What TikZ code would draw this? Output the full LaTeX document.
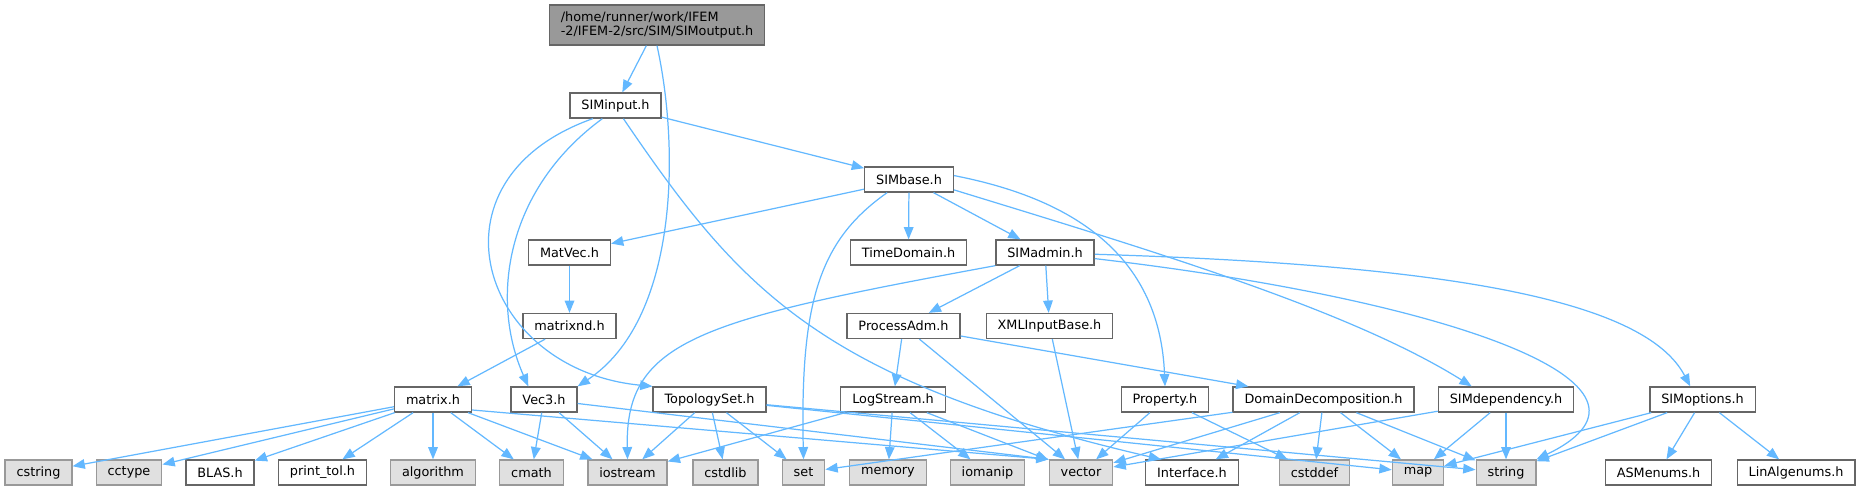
\documentclass[tikz,border=0pt]{standalone}
\usepackage{fontspec}
\setmainfont{DejaVu Sans}
\usetikzlibrary{arrows.meta}

\definecolor{edgeblue}{HTML}{63B8FF}
\definecolor{boxline}{HTML}{666666}
\definecolor{sysline}{HTML}{999999}
\definecolor{sysfill}{HTML}{E0E0E0}
\definecolor{rootfill}{HTML}{999999}

\begin{document}
\begin{tikzpicture}[x=0.02cm, y=-0.02cm,
    hdr/.style={draw=boxline, fill=white, line width=0.75pt, minimum height=0.5cm,
        inner xsep=6.5pt, inner ysep=0pt, font=\fontsize{7.3}{8}\selectfont},
    syshdr/.style={hdr, draw=sysline, fill=sysfill},
    rootfile/.style={hdr, fill=rootfill, align=left, minimum height=0.8cm},
    inc/.style={draw=edgeblue, line width=0.7pt, -{Triangle[length=7pt, width=5.5pt]}}]
                \useasboundingbox (0,0) rectangle (1861,491);

                % project headers
                \node[rootfile] (out) at (657,25) {/home/runner/work/IFEM\\-2/IFEM-2/src/SIM/SIMoutput.h};
                \node[hdr] (input) at (615.5,105.5) {SIMinput.h};
                \node[hdr] (base) at (909,179.5) {SIMbase.h};
                \node[hdr] (matvec) at (569.5,252.5) {MatVec.h};
                \node[hdr] (timedom) at (908.5,252.5) {TimeDomain.h};
                \node[hdr] (admin) at (1045,252.5) {SIMadmin.h};
                \node[hdr] (matrixnd) at (569.5,326) {matrixnd.h};
                \node[hdr] (procadm) at (903.5,326) {ProcessAdm.h};
                \node[hdr] (xmlbase) at (1049.5,326) {XMLInputBase.h};
                \node[hdr] (matrix) at (433,399.5) {matrix.h};
                \node[hdr] (vec3) at (544,399.5) {Vec3.h};
                \node[hdr] (topo) at (709.5,399.5) {TopologySet.h};
                \node[hdr] (logstr) at (893,399.5) {LogStream.h};
                \node[hdr] (prop) at (1165,399.5) {Property.h};
                \node[hdr] (domdec) at (1323.5,399.5) {DomainDecomposition.h};
                \node[hdr] (simdep) at (1506,399.5) {SIMdependency.h};
                \node[hdr] (simopt) at (1702.5,399.5) {SIMoptions.h};

                % bottom row
                \node[syshdr] (cstring) at (38.5,472.5) {cstring};
                \node[syshdr] (cctype) at (129,472.5) {cctype};
                \node[hdr] (blas) at (220,472.5) {BLAS.h};
                \node[hdr] (printtol) at (322.5,472.5) {print\_tol.h};
                \node[syshdr] (algorithm) at (433,472.5) {algorithm};
                \node[syshdr] (cmath) at (531.5,472.5) {cmath};
                \node[syshdr] (iostream) at (627.5,472.5) {iostream};
                \node[syshdr] (cstdlib) at (725.5,472.5) {cstdlib};
                \node[syshdr] (stdset) at (803.5,472.5) {set};
                \node[syshdr] (memory) at (888,472.5) {memory};
                \node[syshdr] (iomanip) at (987.5,472.5) {iomanip};
                \node[syshdr] (vector) at (1081,472.5) {vector};
                \node[hdr] (iface) at (1192,472.5) {Interface.h};
                \node[syshdr] (cstddef) at (1314.5,472.5) {cstddef};
                \node[syshdr] (map) at (1418,472.5) {map};
                \node[syshdr] (string) at (1506,472.5) {string};
                \node[hdr] (asmenums) at (1658.5,472.5) {ASMenums.h};
                \node[hdr] (linalg) at (1796,472.5) {LinAlgenums.h};

                % includes
                \draw[inc] (out) -- (input);
                \draw[inc] (out.south) .. controls (680,150) and (678,320) .. (vec3.north east);
                \draw[inc] (input) -- (base);
                \draw[inc] (input.210) .. controls (420,180) and (480,370) .. (topo.north west);
                \draw[inc] (input.225) .. controls (505,190) and (490,300) .. (vec3.140);
                \draw[inc] (input.301) .. controls (740,290) and (820,380) .. (iface.157);
                \draw[inc] (base) -- (matvec);
                \draw[inc] (base) -- (timedom);
                \draw[inc] (base) -- (admin);
                \draw[inc] (base.211) .. controls (820,240) and (800,300) .. (stdset.north);
                \draw[inc] (base.5) .. controls (1080,200) and (1160,260) .. (prop.north);
                \draw[inc] (base.347) .. controls (1150,250) and (1350,310) .. (simdep.159);
                \draw[inc] (admin.south west) .. controls (700,320) and (625,340) .. (iostream.north);
                \draw[inc] (admin) -- (procadm);
                \draw[inc] (admin) -- (xmlbase);
                \draw[inc] (admin.353) .. controls (1450,300) and (1690,385) .. (string.north east);
                \draw[inc] (admin.358) .. controls (1450,265) and (1645,300) .. (simopt.133);
                \draw[inc] (matvec) -- (matrixnd);
                \draw[inc] (matrixnd) -- (matrix);
                \draw[inc] (procadm) -- (logstr);
                \draw[inc] (procadm) -- (vector);
                \draw[inc] (procadm) -- (domdec);
                \draw[inc] (xmlbase) -- (vector);
                \draw[inc] (matrix) -- (cstring);
                \draw[inc] (matrix) -- (cctype);
                \draw[inc] (matrix) -- (blas);
                \draw[inc] (matrix) -- (printtol);
                \draw[inc] (matrix) -- (algorithm);
                \draw[inc] (matrix) -- (cmath);
                \draw[inc] (matrix) -- (iostream);
                \draw[inc] (matrix.345) -- (vector.north west);
                \draw[inc] (vec3) -- (cmath);
                \draw[inc] (vec3) -- (iostream);
                \draw[inc] (vec3) -- (vector.north west);
                \draw[inc] (topo) -- (iostream);
                \draw[inc] (topo) -- (cstdlib);
                \draw[inc] (topo) -- (stdset);
                \draw[inc] (topo) -- (map);
                \draw[inc] (topo) -- (string);
                \draw[inc] (logstr) -- (iostream);
                \draw[inc] (logstr) -- (memory);
                \draw[inc] (logstr) -- (iomanip);
                \draw[inc] (logstr) -- (vector);
                \draw[inc] (prop) -- (vector);
                \draw[inc] (prop) -- (cstddef);
                \draw[inc] (domdec) -- (stdset);
                \draw[inc] (domdec) -- (vector);
                \draw[inc] (domdec) -- (iface);
                \draw[inc] (domdec) -- (cstddef);
                \draw[inc] (domdec) -- (map);
                \draw[inc] (domdec) -- (string);
                \draw[inc] (simdep) -- (vector);
                \draw[inc] (simdep) -- (map);
                \draw[inc] (simdep) -- (string);
                \draw[inc] (simopt) -- (map);
                \draw[inc] (simopt) -- (string);
                \draw[inc] (simopt) -- (asmenums);
                \draw[inc] (simopt) -- (linalg);
\end{tikzpicture}
\end{document}
